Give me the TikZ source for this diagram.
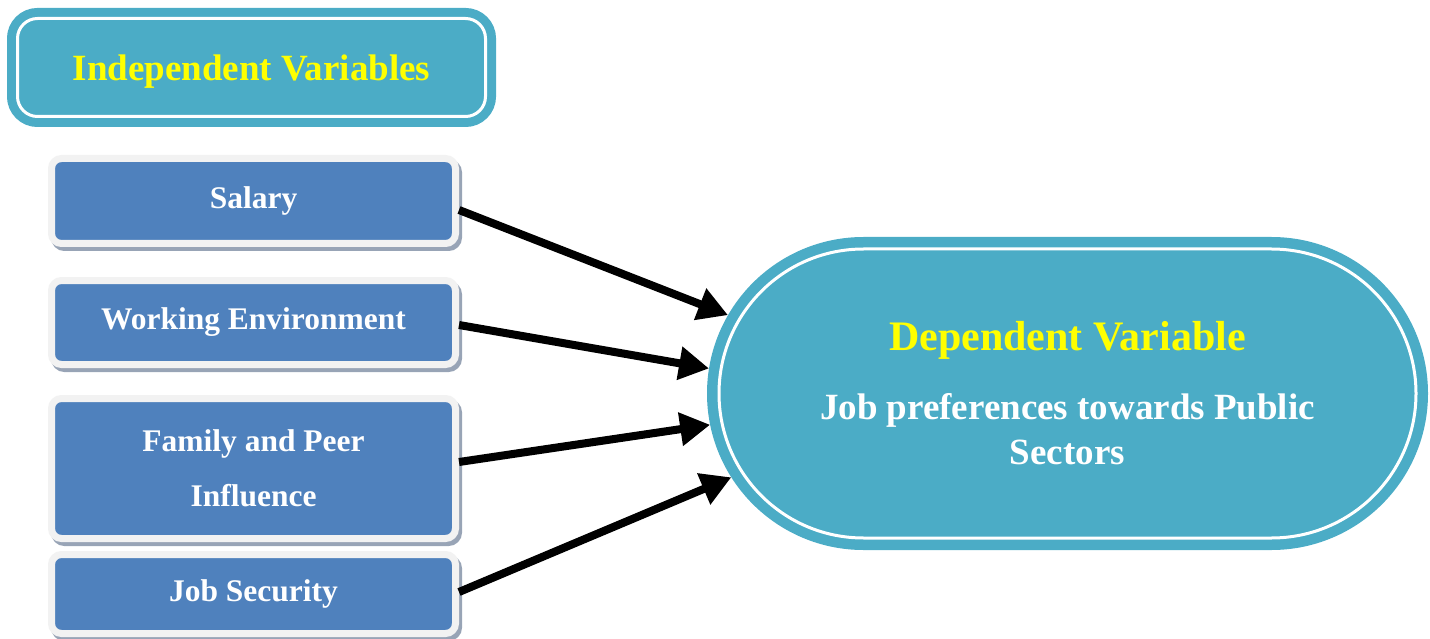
\documentclass[tikz,border=0pt]{standalone}
\usepackage{fontspec}
\setmainfont{Liberation Serif}
\usetikzlibrary{arrows.meta,shapes.misc}

\definecolor{capteal}{HTML}{4BACC6}
\definecolor{capblue}{HTML}{4F81BD}
\definecolor{caprim}{HTML}{F2F2F2}
\definecolor{capshade}{HTML}{98A4B6}
\definecolor{capyellow}{HTML}{FFFF00}

\tikzset{
	header/.style={rectangle, rounded corners=20pt, fill=capteal, draw=capteal, double=white,
		line width=9pt, double distance=3pt, minimum width=468pt, minimum height=98pt,
		inner sep=0pt, text=capyellow, text depth=0pt, font=\bfseries\fontsize{37}{44}\selectfont},
	factor/.style={rectangle, rounded corners=10pt, draw=caprim, line width=7pt, fill=capblue,
		preaction={draw=capshade, fill=capshade, transform canvas={shift={(3pt,-4pt)}}},
		minimum width=404pt, inner sep=0pt, align=center, text=white,
		font=\bfseries\fontsize{31.5}{38}\selectfont},
	target/.style={rounded rectangle, fill=capteal, draw=capteal, double=white,
		line width=10.5pt, double distance=3pt, minimum width=697pt, minimum height=289pt,
		inner sep=0pt, outer sep=12pt, align=center, text=white,
		font=\bfseries\fontsize{37}{45}\selectfont},
	link/.style={line width=8pt, -{Triangle[length=30pt,width=32pt]}}
}

\begin{document}
\begin{tikzpicture}[x=1pt,y=-1pt]
	\useasboundingbox (0,0) rectangle (1430,639);
	\node [header] (indep) at (251.5,67.5) {Independent Variables};
	\node [factor, minimum height=85pt] (salary) at (253.5,201) {Salary};
	\node [factor, minimum height=84pt] (working) at (253.5,322.5) {Working Environment};
	\node [factor, minimum height=140pt] (family) at (253.5,468.5) {Family and Peer\\[17pt]Influence};
	\node [factor, minimum height=79pt] (jobsec) at (253.5,594) {Job Security};
	\node [target] (dep) at (1067.5,393.5) {{\fontsize{42}{45}\selectfont\color{capyellow}Dependent Variable}\\[24pt]Job preferences towards Public\\Sectors};
	\draw [link] ([yshift=-9pt]salary.east) -- (dep.167.5);
	\draw [link] ([yshift=-2.5pt]working.east) -- (dep.176.6);
	\draw [link] ([yshift=6.5pt]family.east) -- (dep.185.1);
	\draw [link] ([yshift=2pt]jobsec.east) -- (dep.194.3);
\end{tikzpicture}
\end{document}
